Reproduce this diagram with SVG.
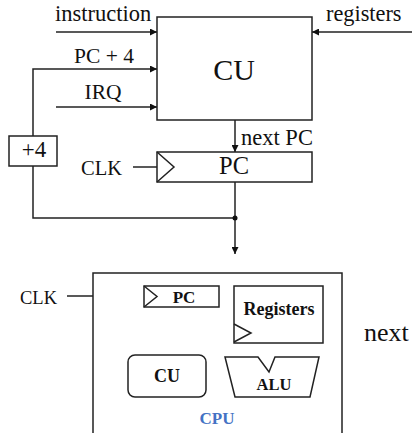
<svg xmlns="http://www.w3.org/2000/svg" width="412" height="433" viewBox="0 0 412 433">
<defs>
<marker id="ah" viewBox="0 0 10 10" refX="10" refY="5" markerWidth="7" markerHeight="7" markerUnits="userSpaceOnUse" orient="auto"><path d="M0,0 L10,5 L0,10 z" fill="#111"/></marker>
<style>
.t{font-family:"Liberation Serif",serif;fill:#111}
.b{font-family:"Liberation Serif",serif;font-weight:bold;fill:#111}
.box{fill:#fff;stroke:#222;stroke-width:1.5}
.ln{fill:none;stroke:#222;stroke-width:1.5}
.ar{fill:none;stroke:#222;stroke-width:1.5;marker-end:url(#ah)}
</style>
</defs>
<rect width="412" height="433" fill="#fff"/>
<g id="connectors">
<line class="ar" x1="56" y1="32" x2="157" y2="32"/>
<line class="ar" x1="412" y1="32" x2="312" y2="32"/>
<polyline class="ar" points="33,136 33,69 157,69"/>
<line class="ar" x1="56" y1="107" x2="157" y2="107"/>
<line class="ar" x1="235" y1="120" x2="235" y2="152"/>
<line class="ln" x1="133" y1="167" x2="157" y2="167"/>
<line class="ln" x1="235" y1="182" x2="235" y2="218"/>
<polyline class="ln" points="33,166 33,218 235,218"/>
<line class="ar" x1="235" y1="218" x2="235" y2="254"/>
<circle cx="235" cy="218" r="2.5" fill="#111"/>
<line class="ln" x1="67" y1="296" x2="144" y2="296"/>
<polyline class="ln" points="128,296 128,332 234,332"/>
</g>
<g id="instruction-label"><text class="t" x="55" y="21" font-size="22.5">instruction</text></g>
<g id="registers-label"><text class="t" x="326" y="21" font-size="22.3">registers</text></g>
<g id="pc4-label"><text class="t" x="104" y="63" font-size="21.5" text-anchor="middle">PC + 4</text></g>
<g id="irq-label"><text class="t" x="103" y="99" font-size="21.5" text-anchor="middle">IRQ</text></g>
<g id="cu"><rect class="box" x="157" y="17" width="155" height="103"/><text class="t" x="234" y="80" font-size="30" text-anchor="middle">CU</text></g>
<g id="nextpc-label"><text class="t" x="241" y="145" font-size="22.5">next PC</text></g>
<g id="plus4"><rect class="box" x="9" y="136" width="48" height="30"/><text class="t" x="34" y="157" font-size="23" text-anchor="middle">+4</text></g>
<g id="clk-label"><text class="t" x="81" y="175" font-size="20.5">CLK</text></g>
<g id="pc"><rect class="box" x="157" y="152" width="155" height="30"/><polyline class="ln" points="157,152 174,167 157,182"/><text class="t" x="234" y="174" font-size="24.5" text-anchor="middle">PC</text></g>
<g id="cpu"><rect class="box" x="93" y="273" width="249" height="170"/><text x="217" y="424" font-size="17" text-anchor="middle" font-family="Liberation Serif, serif" font-weight="bold" fill="#4472c4">CPU</text></g>
<g id="cpu-clk"><text class="t" x="20" y="304" font-size="18.5">CLK</text></g>
<g id="cpu-pc"><rect class="box" x="144" y="286" width="75" height="21"/><polyline class="ln" points="144,286 157,296.5 144,307"/><text class="b" x="184" y="303" font-size="17" text-anchor="middle">PC</text></g>
<g id="cpu-registers"><rect class="box" x="234" y="286" width="89" height="57"/><polyline class="ln" points="234,324 251,333 234,342"/><text class="b" x="279" y="315" font-size="18" text-anchor="middle">Registers</text></g>
<g id="cpu-cu"><rect class="box" x="128" y="355" width="78" height="42" rx="7"/><text class="b" x="167" y="382" font-size="18" text-anchor="middle">CU</text></g>
<g id="cpu-alu"><polygon class="box" points="225,357 258,357 269,372 275,357 319,357 310,397 235,397"/><text class="b" x="274" y="390" font-size="16.5" text-anchor="middle">ALU</text></g>
<g id="next-label"><text class="t" x="364" y="341" font-size="26">next</text></g>
</svg>
